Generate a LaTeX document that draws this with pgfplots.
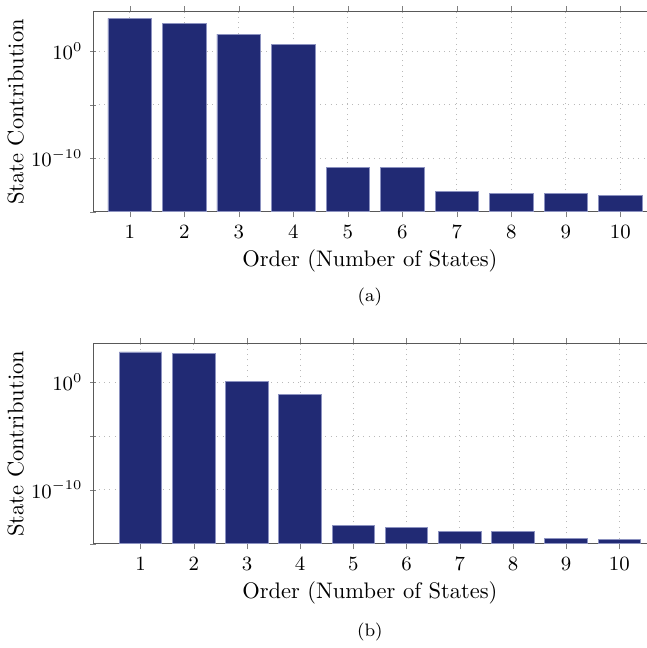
\documentclass[border=0pt]{standalone}
\usepackage{pgfplots}
\pgfplotsset{compat=1.18}
\definecolor{barfill}{RGB}{33,42,116}
\definecolor{baredge}{RGB}{140,146,192}
\begin{document}
\begin{tikzpicture}
\begin{axis}[
    at={(0,0)}, anchor=south west,
    xmin=0.33, xmax=10.48, ymin=1e-15, ymax=4.6e3,
    scale only axis,
    width=246pt, height=88.9pt,
    ymode=log, log basis y=10, log origin=infty,
    ytick={1e-15,1e-10,1e-5,1},
    yticklabels={,$10^{-10}$,,$10^{0}$},
    xtick={1,2,3,4,5,6,7,8,9,10},
    xtick pos=both, ytick pos=left,
    tick align=outside,
    major tick length=2.5pt,
    minor tick num=0,
    tick label style={font=\small},
    axis x line=box, axis y line=left,
    y axis line style={-},
    axis line style={gray!70!black},
    xmajorgrids=true, ymajorgrids=true, yminorgrids=false, xminorgrids=false,
    grid style={dotted, gray!55},
    ybar, bar width=0.8,
    clip=false,
    xlabel={Order (Number of States)},
    ylabel={State Contribution},
    xlabel style={at={(axis description cs:0.5,0)}, yshift=-21.9pt, anchor=center},
    ylabel style={at={(axis description cs:0,0.5)}, yshift=34.5pt, anchor=center},
]
\addplot[fill=barfill, draw=baredge, line width=0.4pt] coordinates {(1,1.15e3) (2,4.2e2) (3,3.9e1) (4,3.9) (5,1.26e-11) (6,1.26e-11) (7,7.6e-14) (8,5.6e-14) (9,5.2e-14) (10,3.2e-14)};
\node[font=\footnotesize, yshift=-37.9pt] at (axis description cs:0.5,0) {(a)};
\end{axis}
\begin{axis}[
    at={(0,-147.6pt)}, anchor=south west,
    xmin=0.11, xmax=10.51, ymin=1e-15, ymax=3.55e3,
    scale only axis,
    width=246pt, height=88.9pt,
    ymode=log, log basis y=10, log origin=infty,
    ytick={1e-15,1e-10,1e-5,1},
    yticklabels={,$10^{-10}$,,$10^{0}$},
    xtick={1,2,3,4,5,6,7,8,9,10},
    xtick pos=both, ytick pos=left,
    tick align=outside,
    major tick length=2.5pt,
    minor tick num=0,
    tick label style={font=\small},
    axis x line=box, axis y line=left,
    y axis line style={-},
    axis line style={gray!70!black},
    xmajorgrids=true, ymajorgrids=true, yminorgrids=false, xminorgrids=false,
    grid style={dotted, gray!55},
    ybar, bar width=0.8,
    clip=false,
    xlabel={Order (Number of States)},
    ylabel={State Contribution},
    xlabel style={at={(axis description cs:0.5,0)}, yshift=-21.9pt, anchor=center},
    ylabel style={at={(axis description cs:0,0.5)}, yshift=34.5pt, anchor=center},
]
\addplot[fill=barfill, draw=baredge, line width=0.4pt] coordinates {(1,6.3e2) (2,4.2e2) (3,1.15) (4,7.1e-2) (5,5e-14) (6,3.5e-14) (7,1.5e-14) (8,1.26e-14) (9,2.9e-15) (10,2.5e-15)};
\node[font=\footnotesize, yshift=-39pt] at (axis description cs:0.5,0) {(b)};
\end{axis}
\path (current bounding box.north) ++(0,2.7pt);
\end{tikzpicture}
\end{document}
